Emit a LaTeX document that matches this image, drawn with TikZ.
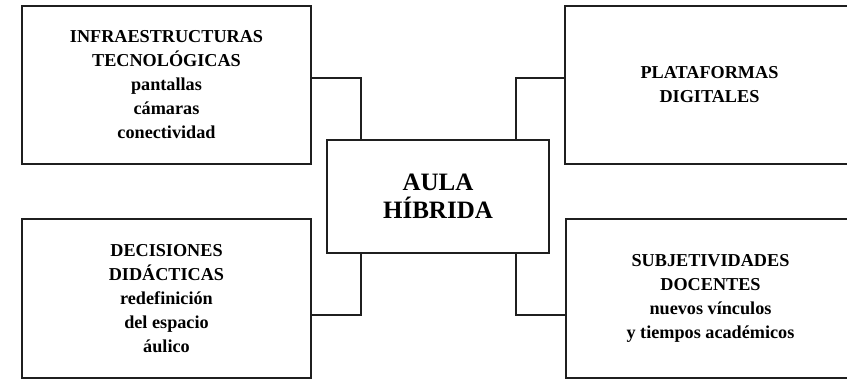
\documentclass[tikz,border=0pt]{standalone}
\usepackage{fontspec}
\setmainfont{Liberation Serif}
\usepackage{tikz}
\usetikzlibrary{positioning}

\begin{document}
\begin{tikzpicture}[x=1pt, y=1pt,
    caja/.style={draw=black!88, line width=1.5pt, minimum width=289pt, minimum height=158pt,
      align=center, font=\fontsize{18.2}{24}\selectfont\bfseries, inner sep=0pt},
    centro/.style={draw=black!88, line width=1.5pt, minimum width=222pt, minimum height=113pt,
      align=center, font=\fontsize{25}{28}\selectfont\bfseries, inner sep=0pt},
    enlace/.style={draw=black!88, line width=1.4pt}]
    % Fix the frame
    \useasboundingbox (0,0) rectangle (847,379);
    \clip (0,0) rectangle (847,379);

    % Draw central box
    \node[centro] (aula) at (438,182.5) {AULA\\HÍBRIDA};

    % Draw surrounding boxes
    \node[caja] (infra) at (166.5,294) {INFRAESTRUCTURAS\\TECNOLÓGICAS\\pantallas\\cámaras\\conectividad};
    \node[caja] (plataformas) at (709.5,294) {PLATAFORMAS\\DIGITALES};
    \node[caja, minimum height=159pt] (decisiones) at (166.5,80.5) {DECISIONES\\DIDÁCTICAS\\redefinición\\del espacio\\áulico};
    \node[caja, minimum height=159pt] (subjetividades) at (710.5,80.5) {SUBJETIVIDADES\\DOCENTES\\nuevos vínculos\\y tiempos académicos};

    % Draw connectors
    \draw[enlace] ([yshift=7pt]infra.east) -| ([xshift=-77pt]aula.north);
    \draw[enlace] ([xshift=78pt]aula.north) |- ([yshift=7pt]plataformas.west);
    \draw[enlace] ([xshift=-77pt]aula.south) |- ([yshift=-16.5pt]decisiones.east);
    \draw[enlace] ([xshift=78pt]aula.south) |- ([yshift=-16.5pt]subjetividades.west);
\end{tikzpicture}
\end{document}
